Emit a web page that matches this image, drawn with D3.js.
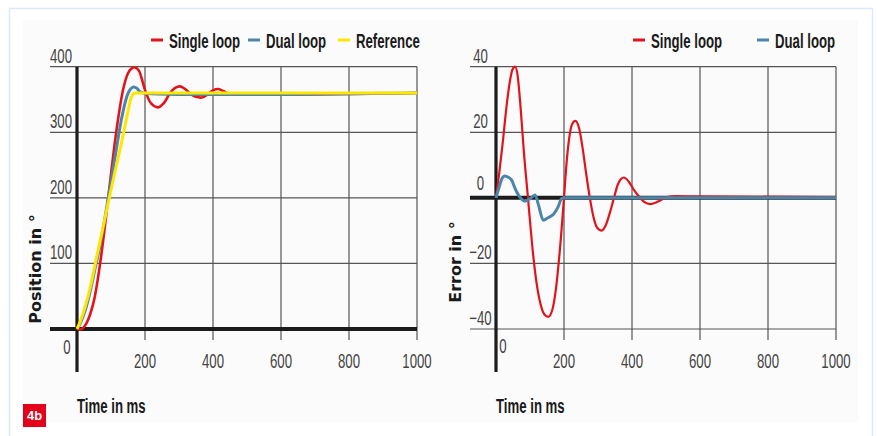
<!DOCTYPE html>
<html>
<head>
<meta charset="utf-8">
<script src="https://cdn.jsdelivr.net/npm/d3@7"></script>
<style>
  body { margin: 0; background: #fff; }
  svg { display: block; }
</style>
</head>
<body>
<div id="chart"></div>
<script>
// time ticks shared by both panels
const timeTicks = [200, 400, 600, 800, 1000];

// left panel: position in degrees
const posTicks = [100, 200, 300, 400];
const posReference = [[0,0],[10,12],[24,34],[40,66],[53,98],[77,156],[95,200],[110,236],[130,282],[146,322],[154,342],[160,354],[166,359],[175,360],[1000,360]];
const posSingle = [[0,0],[14,0],[28,9],[48,39],[68,100],[85,170],[102,245],[118,310],[136,366],[150,390],[160,397],[171,399],[182,394],[193,377],[203,360],[218,344],[239,338],[256,345],[274,360],[290,368],[303,370],[318,366],[335,358],[350,354],[367,353],[385,358],[400,364],[416,366],[430,363],[442,360],[1000,360]];
const posDual = [[0,0],[10,9],[24,28],[40,60],[53,92],[68,128],[85,178],[100,225],[115,272],[130,318],[145,352],[156,365],[166,369],[176,367],[185,362],[195,360],[1000,360]];

// right panel: error in degrees
const errTicks = [-40, -20, 20, 40];
const errSingle = [[0,0],[10,8],[20,17],[30,27],[40,35],[48,39],[56,40],[64,37],[72,28],[82,14],[94,0],[106,-14],[118,-25],[130,-32],[142,-35.5],[154,-36.3],[166,-34],[176,-28],[186,-18],[200,0],[207,10],[215,18],[224,22.5],[233,23.5],[245,21],[255,15],[265,7.5],[276,0],[286,-5.5],[297,-9],[311,-10],[323,-8.3],[335,-4.5],[347,0],[358,4],[367,5.7],[376,6.2],[390,5],[405,2.5],[424,0],[438,-1.4],[453,-1.9],[475,-1.2],[502,0.2],[530,0.5],[700,0.4],[1000,0.2]];
const errDual = [[0,0],[10,3.5],[18,6],[26,6.7],[36,6.3],[46,5.4],[56,2.9],[61,1.8],[75,-0.4],[85,-1],[100,-0.3],[115,0.9],[125,-2.2],[139,-6.8],[154,-6],[169,-5],[183,-2.7],[193,-0.2],[200,0],[1000,0]];

const legendLeft = ["Single loop", "Dual loop", "Reference"];
const legendRight = ["Single loop", "Dual loop"];

const W = 877, H = 436;
const colors = {"Single loop": "#e3131b", "Dual loop": "#4b86aa", "Reference": "#ffe600"};
const gridColor = "#555";
const axisColor = "#1c1c1c";
const condensed = 0.66;

const svg = d3.select("#chart").append("svg")
  .attr("width", W).attr("height", H)
  .attr("viewBox", `0 0 ${W} ${H}`)
  .style("font-family", "'Liberation Sans', Arial, sans-serif");

// panel frame
svg.append("rect").attr("x", 9.5).attr("y", 8.5).attr("width", 863).attr("height", 440)
  .attr("fill", "#fff").attr("stroke", "#dce8f5").attr("stroke-width", 1.5);
svg.append("rect").attr("x", 23).attr("y", 20).attr("width", 835).attr("height", 402)
  .attr("fill", "#fbfbfb");

// condensed text helper (the original uses a narrow grotesque)
function ctext(g, x, y, str, opts) {
  opts = opts || {};
  let t = g.append("g").attr("transform", `translate(${x},${y})`)
    .append("text")
    .attr("transform", `scale(${opts.scale || condensed},1)`)
    .attr("text-anchor", opts.anchor || "middle")
    .attr("font-size", opts.size || 20)
    .attr("font-weight", opts.weight || "normal")
    .attr("fill", opts.fill || "#444")
    .text(str);
  return t;
}

function drawPanel(cfg) {
  const g = svg.append("g");
  const x = d3.scaleLinear().domain([0, 1000]).range([cfg.x0, cfg.x0 + 340]);
  const y = d3.scaleLinear().domain(cfg.ydomain).range([329, 66.7]);
  const x1 = x(1000);

  // horizontal grid
  g.append("g").selectAll("line").data(cfg.yTicks).join("line")
    .attr("x1", cfg.gridLeft).attr("x2", x1)
    .attr("y1", d => y(d)).attr("y2", d => y(d))
    .attr("stroke", gridColor).attr("stroke-width", 1.2);

  // vertical grid
  g.append("g").selectAll("line").data(timeTicks).join("line")
    .attr("x1", d => x(d)).attr("x2", d => x(d))
    .attr("y1", y.range()[1]).attr("y2", 340)
    .attr("stroke", gridColor).attr("stroke-width", 1.2);

  // heavy zero line and y axis
  g.append("line").attr("x1", cfg.gridLeft).attr("x2", x1)
    .attr("y1", y(0)).attr("y2", y(0))
    .attr("stroke", axisColor).attr("stroke-width", 4);
  g.append("line").attr("x1", x(0)).attr("x2", x(0))
    .attr("y1", y.range()[1]).attr("y2", 372)
    .attr("stroke", axisColor).attr("stroke-width", 3.2);

  // series, drawn so the first listed is underneath
  const line = d3.line().x(d => x(d[0])).y(d => y(d[1]));
  cfg.series.forEach(s => {
    g.append("path").datum(s.data)
      .attr("d", line.curve(s.curve)(s.data))
      .attr("fill", "none")
      .attr("stroke", colors[s.name])
      .attr("stroke-width", s.width)
      .attr("stroke-linejoin", "round");
  });

  // tick labels
  cfg.yTicks.forEach(v => ctext(g, cfg.yLabelX, y(v) - 4, d3.format("d")(v)));
  timeTicks.forEach(v => ctext(g, x(v), 368, v));
  ctext(g, cfg.zeroX, cfg.zeroY, "0");

  // axis titles
  ctext(g, x(0), 413, "Time in ms", {anchor: "start", weight: "bold", fill: "#1a1a1a"});
  g.append("text")
    .attr("transform", `translate(${cfg.titleX},${cfg.titleY}) rotate(-90)`)
    .attr("text-anchor", "middle")
    .attr("font-family", "'DejaVu Sans', sans-serif")
    .attr("font-weight", "bold")
    .attr("font-size", 16)
    .attr("fill", "#1a1a1a")
    .text(cfg.yTitle);

  // legend
  cfg.legend.forEach((name, i) => {
    const lx = cfg.legendX[i];
    g.append("line").attr("x1", lx).attr("x2", lx + 12)
      .attr("y1", 40).attr("y2", 40)
      .attr("stroke", colors[name]).attr("stroke-width", 3);
    ctext(g, lx + 18, 48, name, {anchor: "start", weight: "bold", fill: "#1a1a1a"});
  });
}

drawPanel({
  x0: 77, gridLeft: 50,
  ydomain: [0, 400], yTicks: posTicks, yLabelX: 61,
  zeroX: 67, zeroY: 354,
  titleX: 41, titleY: 269, yTitle: "Position in °",
  legend: legendLeft, legendX: [151, 248, 338],
  series: [
    {name: "Single loop", data: posSingle, curve: d3.curveCatmullRom, width: 2.6},
    {name: "Dual loop", data: posDual, curve: d3.curveCatmullRom, width: 3},
    {name: "Reference", data: posReference, curve: d3.curveMonotoneX, width: 3}
  ]
});

drawPanel({
  x0: 496, gridLeft: 470,
  ydomain: [-40, 40], yTicks: errTicks, yLabelX: 480.5,
  zeroX: 503, zeroY: 353,
  titleX: 461, titleY: 262, yTitle: "Error in °",
  legend: legendRight, legendX: [633, 757],
  series: [
    {name: "Single loop", data: errSingle, curve: d3.curveMonotoneX, width: 2.2},
    {name: "Dual loop", data: errDual, curve: d3.curveMonotoneX, width: 3}
  ]
});
// the y "0" of the error panel sits above the zero line
ctext(svg, 480.5, 190, "0");

// figure tag
svg.append("rect").attr("x", 23).attr("y", 404).attr("width", 23).attr("height", 23).attr("fill", "#e2001a");
svg.append("text").attr("x", 34.5).attr("y", 420).attr("text-anchor", "middle")
  .attr("font-size", 13).attr("font-weight", "bold").attr("fill", "#fff").text("4b");
</script>
</body>
</html>
